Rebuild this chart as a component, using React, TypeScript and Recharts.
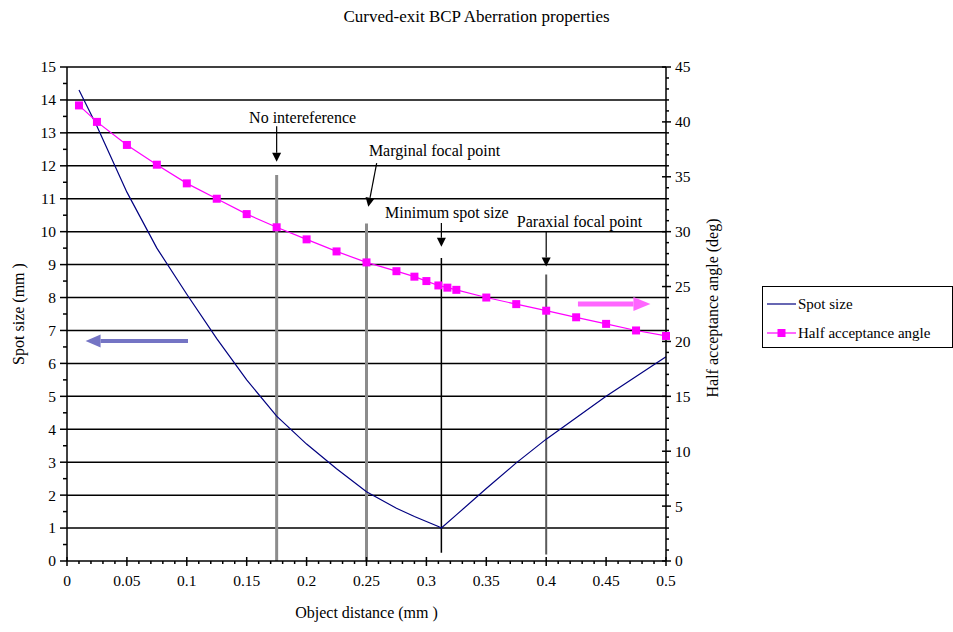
import React from "react";
import {
  ComposedChart, Line, XAxis, YAxis, ReferenceLine, ReferenceDot, Legend,
} from "recharts";

const FONT = "'Liberation Serif', 'Times New Roman', serif";

// spot size (mm) vs object distance (mm)
const spotX = [0.01, 0.025, 0.05, 0.075, 0.1, 0.125, 0.15, 0.175, 0.2, 0.225, 0.25, 0.275, 0.29, 0.3, 0.31, 0.3125, 0.325, 0.35, 0.375, 0.4, 0.425, 0.45, 0.475, 0.5];
const spotSize = [14.3, 13.2, 11.2, 9.5, 8.1, 6.75, 5.5, 4.4, 3.55, 2.8, 2.1, 1.6, 1.35, 1.2, 1.05, 1.0, 1.4, 2.2, 2.98, 3.7, 4.35, 5.0, 5.6, 6.2];

// half acceptance angle (deg), right axis
const angleX = [0.01, 0.025, 0.05, 0.075, 0.1, 0.125, 0.15, 0.175, 0.2, 0.225, 0.25, 0.275, 0.29, 0.3, 0.31, 0.3175, 0.325, 0.35, 0.375, 0.4, 0.425, 0.45, 0.475, 0.5];
const halfAngle = [41.5, 40.0, 37.9, 36.1, 34.4, 33.0, 31.6, 30.4, 29.3, 28.2, 27.2, 26.4, 25.9, 25.5, 25.1, 24.9, 24.7, 24.0, 23.4, 22.8, 22.2, 21.6, 21.0, 20.5];

const xMajor = [0, 0.05, 0.1, 0.15, 0.2, 0.25, 0.3, 0.35, 0.4, 0.45, 0.5];
const leftMajor = [0, 1, 2, 3, 4, 5, 6, 7, 8, 9, 10, 11, 12, 13, 14, 15];
const rightMajor = [0, 5, 10, 15, 20, 25, 30, 35, 40, 45];

// vertical marker lines (left axis units)
const markerX = [0.175, 0.25, 0.3125, 0.4];
const markerBottom = [0, 0, 0.25, 0.2];
const markerTop = [11.72, 10.25, 9.2, 8.7];
const markerColor = ["#8c8c8c", "#8c8c8c", "#000000", "#5a5a5a"];
const markerWidth = [3, 3, 1.5, 2];

// annotations
const noteText = ["No intereference", "Marginal focal point", "Minimum spot size", "Paraxial focal point"];
const noteX = [0.152, 0.252, 0.2655, 0.3755];
const noteY = [13.3, 12.3, 10.4, 10.15];
const arrowFromX = [0.175, 0.2585, 0.3125, 0.4];
const arrowFromY = [13.2, 12.08, 10.26, 10.0];
const arrowToX = [0.175, 0.2515, 0.3125, 0.4];
const arrowToY = [12.12, 10.76, 9.54, 8.94];

const subdivide = (majors: number[], n: number) => {
  const out: number[] = [];
  for (let i = 0; i < majors.length - 1; i++) {
    for (let k = 0; k < n; k++) out.push(majors[i] + ((majors[i + 1] - majors[i]) * k) / n);
  }
  out.push(majors[majors.length - 1]);
  return out;
};
const isMajor = (majors: number[], v: number) => majors.some((m) => Math.abs(m - v) < 1e-9);

const spotData = spotX.map((x, i) => ({ x, spot: spotSize[i] }));
const angleData = angleX.map((x, i) => ({ x, angle: halfAngle[i] }));

const textStyle = { fontFamily: FONT, fontSize: 15.5, fill: "#000" };

const LeftTick = ({ x, y, payload }: any) => {
  const major = isMajor(leftMajor, payload.value);
  return (
    <g>
      <line x1={x - (major ? 7 : 4)} x2={x} y1={y} y2={y} stroke="#000" strokeWidth={1.5} />
      {major && <text x={x - 11} y={y} dy="0.35em" textAnchor="end" {...textStyle}>{payload.value}</text>}
    </g>
  );
};

const RightTick = ({ x, y, payload }: any) => {
  const major = isMajor(rightMajor, payload.value);
  return (
    <g>
      <line x1={major ? x - 4 : x} x2={x + (major ? 5 : 3)} y1={y} y2={y} stroke="#000" strokeWidth={1.5} />
      {major && <text x={x + 9} y={y} dy="0.35em" textAnchor="start" {...textStyle}>{payload.value}</text>}
    </g>
  );
};

const BottomTick = ({ x, y, payload }: any) => {
  const major = isMajor(xMajor, payload.value);
  return (
    <g>
      <line x1={x} x2={x} y1={major ? y - 4 : y} y2={y + (major ? 5 : 3)} stroke="#000" strokeWidth={1.5} />
      {major && <text x={x} y={y + 25} textAnchor="middle" {...textStyle}>{String(payload.value)}</text>}
    </g>
  );
};

const arrowShape = (color: string, width: number, headLen: number, headHalf: number) => (p: any) => {
  const { x1, y1, x2, y2 } = p;
  const len = Math.hypot(x2 - x1, y2 - y1) || 1;
  const dx = (x2 - x1) / len;
  const dy = (y2 - y1) / len;
  const bx = x2 - dx * headLen;
  const by = y2 - dy * headLen;
  const pts = `${x2},${y2} ${bx - dy * headHalf},${by + dx * headHalf} ${bx + dy * headHalf},${by - dx * headHalf}`;
  return (
    <g>
      <line x1={x1} y1={y1} x2={bx} y2={by} stroke={color} strokeWidth={width} />
      <polygon points={pts} fill={color} />
    </g>
  );
};

const LegendBox = () => (
  <div style={{
    width: 191, height: 62, border: "1px solid #000", boxSizing: "border-box",
    background: "#fff", fontFamily: FONT, fontSize: 15, position: "relative",
  }}>
    <svg width={40} height={60} style={{ position: "absolute", left: 0, top: 0 }}>
      <line x1={4} x2={33} y1={17} y2={17} stroke="#000080" strokeWidth={1.2} />
      <line x1={4} x2={33} y1={46} y2={46} stroke="#ff00ff" strokeWidth={1.2} />
      <rect x={14.5} y={42} width={8} height={8} fill="#ff00ff" />
    </svg>
    <div style={{ position: "absolute", left: 35, top: 8, lineHeight: "18px" }}>Spot size</div>
    <div style={{ position: "absolute", left: 35, top: 37, lineHeight: "18px", whiteSpace: "nowrap" }}>Half acceptance angle</div>
  </div>
);

export default function App() {
  return (
    <div style={{ position: "absolute", left: 0, top: 0, width: 953, height: 632, background: "#fff", overflow: "hidden" }}>
      <div style={{
        position: "absolute", top: 7, left: 0, width: 953, textAlign: "center",
        fontFamily: FONT, fontSize: 17, lineHeight: "20px", color: "#000",
      }}>
        Curved-exit BCP Aberration properties
      </div>
      <ComposedChart width={953} height={632} margin={{ top: 67, right: 0, bottom: 0, left: 0 }}>
        <XAxis
          type="number" dataKey="x" domain={[0, 0.5]} ticks={subdivide(xMajor, 5)} interval={0}
          height={71} tickSize={0} tickMargin={0} tick={<BottomTick />}
          axisLine={{ stroke: "#000", strokeWidth: 1.5 }}
          label={(p: any) => (
            <text x={p.viewBox.x + p.viewBox.width / 2} y={p.viewBox.y + 57} textAnchor="middle" fontFamily={FONT} fontSize={16} fill="#000">
              Object distance (mm )
            </text>
          )}
        />
        <YAxis
          yAxisId="left" type="number" domain={[0, 15]} ticks={subdivide(leftMajor, 2)} interval={0}
          width={67} tickSize={0} tickMargin={0} tick={<LeftTick />}
          axisLine={{ stroke: "#000", strokeWidth: 1.5 }}
          label={(p: any) => {
            const cx = p.viewBox.x + 18;
            const cy = p.viewBox.y + p.viewBox.height / 2;
            return (
              <text x={cx} y={cy} dy="0.35em" transform={`rotate(-90 ${cx} ${cy})`} textAnchor="middle" fontFamily={FONT} fontSize={16} fill="#000">
                Spot size (mm )
              </text>
            );
          }}
        />
        <YAxis
          yAxisId="right" orientation="right" type="number" domain={[0, 45]} ticks={subdivide(rightMajor, 5)} interval={0}
          width={287} tickSize={0} tickMargin={0} tick={<RightTick />}
          axisLine={{ stroke: "#000", strokeWidth: 1.5 }}
          label={(p: any) => {
            const cx = p.viewBox.x + 46;
            const cy = p.viewBox.y + p.viewBox.height / 2 - 6;
            return (
              <text x={cx} y={cy} dy="0.35em" transform={`rotate(-90 ${cx} ${cy})`} textAnchor="middle" fontFamily={FONT} fontSize={16} fill="#000">
                Half acceptance angle (deg)
              </text>
            );
          }}
        />

        {leftMajor.filter((v) => v > 0).map((v) => (
          <ReferenceLine key={`g${v}`} yAxisId="left" y={v} stroke="#000" strokeWidth={1.5} />
        ))}

        {markerX.map((x, i) => (
          <ReferenceLine
            key={`m${i}`} yAxisId="left"
            segment={[{ x, y: markerBottom[i] }, { x, y: markerTop[i] }]}
            stroke={markerColor[i]} strokeWidth={markerWidth[i]}
          />
        ))}

        {noteText.map((t, i) => (
          <ReferenceLine
            key={`a${i}`} yAxisId="left"
            segment={[{ x: arrowFromX[i], y: arrowFromY[i] }, { x: arrowToX[i], y: arrowToY[i] }]}
            shape={arrowShape("#000", 1.2, 9, 4.5)}
          />
        ))}

        {noteText.map((t, i) => (
          <ReferenceDot
            key={`t${i}`} yAxisId="left" x={noteX[i]} y={noteY[i]} r={0}
            shape={(p: any) => (
              <text x={p.cx} y={p.cy} textAnchor="start" fontFamily={FONT} fontSize={16} fill="#000">{t}</text>
            )}
          />
        ))}

        <ReferenceLine
          yAxisId="left" segment={[{ x: 0.101, y: 6.68 }, { x: 0.0155, y: 6.68 }]}
          shape={arrowShape("#7474c4", 4, 15, 6.5)}
        />
        <ReferenceLine
          yAxisId="left" segment={[{ x: 0.4265, y: 7.8 }, { x: 0.487, y: 7.8 }]}
          shape={arrowShape("#ff66ff", 5, 17, 7)}
        />

        <Line
          yAxisId="left" data={spotData} dataKey="spot" type="linear"
          stroke="#000080" strokeWidth={1.2} dot={false} isAnimationActive={false}
        />
        <Line
          yAxisId="right" data={angleData} dataKey="angle" type="linear"
          stroke="#ff00ff" strokeWidth={1.2} isAnimationActive={false}
          dot={(p: any) => <rect key={`d${p.index}`} x={p.cx - 4} y={p.cy - 4} width={8} height={8} fill="#ff00ff" />}
        />

        <Legend
          layout="vertical" align="center" verticalAlign="middle"
          content={<LegendBox />}
          wrapperStyle={{ position: "absolute", left: 762, top: 286, width: 191, height: 62 }}
        />
      </ComposedChart>
    </div>
  );
}
